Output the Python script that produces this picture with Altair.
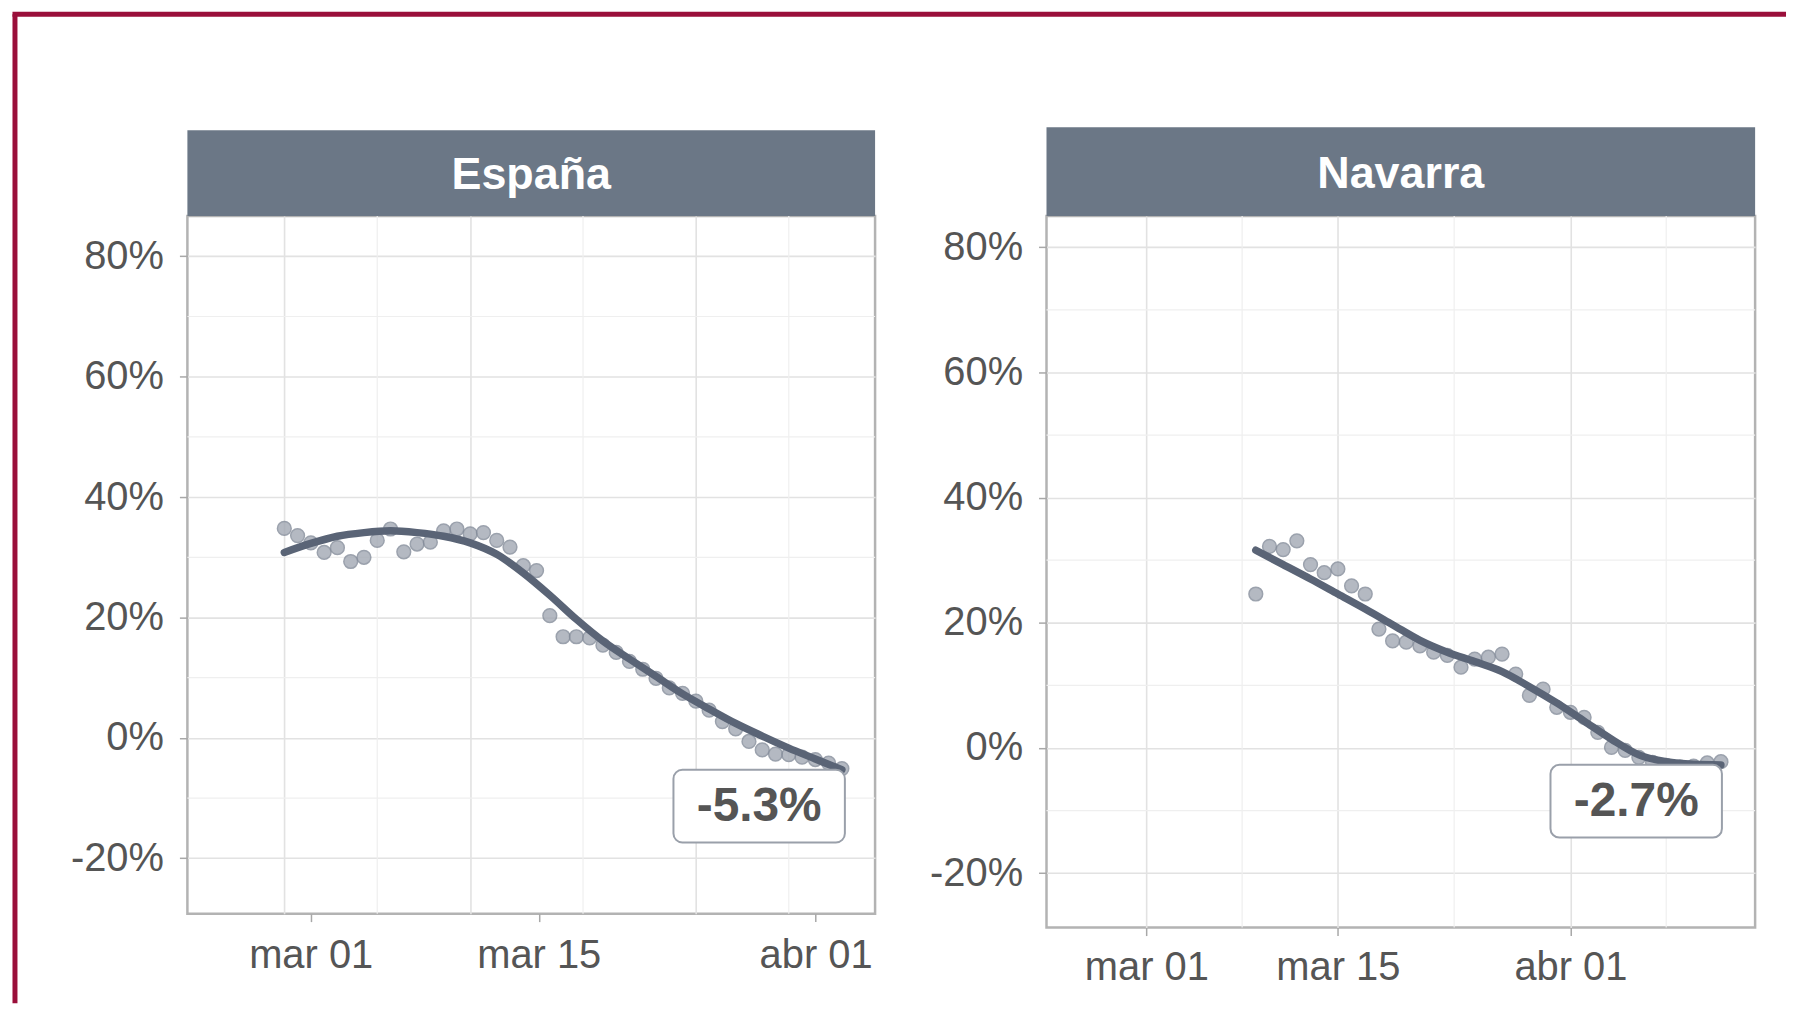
import altair as alt
import pandas as pd

# ---------------- data ----------------
panels = ["España", "Navarra"]
end_labels = ["-5.3%", "-2.7%"]

tick_days = [0, 14, 31]                      # days since 1 March
tick_labels = ["mar 01", "mar 15", "abr 01"]
x_minor = [7, 22.5, 38]
y_ticks = [-20, 0, 20, 40, 60, 80]
y_minor = [-10, 10, 30, 50, 70]

esp_days = list(range(0, 43))
esp_vals = [34.8, 33.6, 32.4, 30.8, 31.6, 29.3, 30.0, 32.8, 34.7, 30.9,
            32.2, 32.5, 34.4, 34.7, 33.9, 34.1, 32.8, 31.7, 28.6, 27.8,
            20.3, 16.8, 16.8, 16.6, 15.4, 14.2, 12.7, 11.4, 9.9, 8.3,
            7.4, 6.1, 4.6, 2.7, 1.5, -0.6, -2.0, -2.7, -2.8, -3.2,
            -3.6, -4.2, -5.1]
esp_smooth_days = list(range(0, 43, 2))
esp_smooth = [30.8, 32.3, 33.5, 34.1, 34.4, 34.1, 33.5, 32.4, 30.5, 27.4,
              23.7, 19.7, 16.1, 13.1, 10.2, 7.3, 4.8, 2.4, 0.3, -1.7,
              -3.5, -5.3]

nav_days = list(range(8, 43))
nav_vals = [24.6, 32.2, 31.7, 33.1, 29.3, 28.0, 28.6, 25.9, 24.6, 19.0,
            17.1, 16.9, 16.3, 15.3, 14.8, 12.9, 14.2, 14.5, 15.0, 11.8,
            8.4, 9.4, 6.5, 5.7, 4.9, 2.5, 0.1, -0.4, -1.5, -2.3,
            -2.8, -3.0, -2.9, -2.4, -2.2]
nav_smooth_days = list(range(8, 43, 2))
nav_smooth = [31.6, 29.3, 27.0, 24.6, 22.2, 19.7, 17.2, 15.3, 13.8, 12.2,
              9.8, 7.2, 4.3, 1.4, -1.1, -2.2, -2.6, -2.7]

# ---------------- style ----------------
FONT = "Liberation Sans"
TXT = "#555555"
STRIP = "#6b7786"
LINE = "#5a6476"
PT_FILL = "#a2a8b3"
PT_STROKE = "#838b99"
FRAME = "#9a0f3a"
GRID_MAJOR = "#e2e2e2"
GRID_MINOR = "#efefef"

label_expr = " : ".join(
    f"datum.value == {d} ? '{t}'" for d, t in zip(tick_days, tick_labels)
) + " : ''"


def panel(idx, width, height, ydom, strip_h, show_x_labels, box_dx):
    name = panels[idx]
    days, vals = (esp_days, esp_vals) if idx == 0 else (nav_days, nav_vals)
    sdays, svals = (esp_smooth_days, esp_smooth) if idx == 0 else (nav_smooth_days, nav_smooth)

    pts = pd.DataFrame({"d": days, "v": vals})
    smooth = pd.DataFrame({"d": sdays, "v": svals})
    last = pd.DataFrame({"d": [sdays[-1]], "v": [svals[-1]], "lab": [end_labels[idx]]})
    strip_df = pd.DataFrame({"panel": [name]})
    xmin = pd.DataFrame({"d": x_minor})
    ymin = pd.DataFrame({"v": y_minor})

    xs = alt.Scale(domain=[-7.3, 44.5], nice=False, zero=False)
    ys = alt.Scale(domain=ydom, nice=False, zero=False)
    xaxis = alt.Axis(values=tick_days, grid=True, labels=show_x_labels,
                     ticks=show_x_labels, domain=False, title=None,
                     labelExpr=label_expr, tickSize=8, labelPadding=12)
    yaxis = alt.Axis(values=y_ticks, grid=True, domain=False, title=None,
                     labelExpr="datum.value + '%'", tickSize=8, labelPadding=16)
    X = lambda: alt.X("d:Q", scale=xs, axis=xaxis)
    Y = lambda: alt.Y("v:Q", scale=ys, axis=yaxis)

    layers = [
        alt.Chart(xmin).mark_rule(color=GRID_MINOR, strokeWidth=1.2).encode(x=X()),
        alt.Chart(ymin).mark_rule(color=GRID_MINOR, strokeWidth=1.2).encode(y=Y()),
        alt.Chart(strip_df).mark_rect(color=STRIP).encode(
            x=alt.value(0), x2=alt.value(width), y=alt.value(-strip_h), y2=alt.value(0)),
        alt.Chart(strip_df).mark_text(color="white", font=FONT, fontSize=45,
                                      fontWeight="bold", baseline="middle", align="center").encode(
            x=alt.value(width / 2), y=alt.value(-strip_h / 2 + 2), text="panel:N"),
        alt.Chart(pts).mark_point(filled=True, size=190, color=PT_FILL, stroke=PT_STROKE,
                                  strokeWidth=1.5, opacity=0.8).encode(x=X(), y=Y()),
        alt.Chart(smooth).mark_line(color=LINE, strokeWidth=7.5, interpolate="monotone",
                                    strokeCap="round").encode(x=X(), y=Y()),
        alt.Chart(last).mark_rect(fill="white", stroke="#9aa0aa", strokeWidth=2,
                                  cornerRadius=9, xOffset=-171 + box_dx, x2Offset=1 + box_dx,
                                  yOffset=0, y2Offset=73).encode(
            x=X(), x2="d:Q", y=Y(), y2="v:Q"),
        alt.Chart(last).mark_text(font=FONT, fontSize=48, fontWeight="bold", color="#555555",
                                  align="center", baseline="middle",
                                  dx=-85 + box_dx, dy=37).encode(x=X(), y=Y(), text="lab:N"),
    ]
    if idx == 0:
        one = pd.DataFrame({"k": [0]})
        layers.insert(0, alt.Chart(one).mark_rule(color=FRAME, strokeWidth=5).encode(
            x=alt.value(-173), y=alt.value(-202.5), y2=alt.value(790)))
        layers.insert(0, alt.Chart(one).mark_rule(color=FRAME, strokeWidth=5).encode(
            x=alt.value(-175.5), x2=alt.value(1604), y=alt.value(-202.5)))
    inner = alt.layer(*layers).properties(width=width, height=height)
    return inner


left_inner = panel(0, 690, 700, [-29.2, 86.7], 86, False, 2)

# tick labels of the left panel sit at their own positions in the picture
lab_df = pd.DataFrame({"d": tick_days})
left_labels = alt.Chart(lab_df).mark_point(opacity=0).encode(
    x=alt.X("d:Q", scale=alt.Scale(domain=[-7.57, 34.65], nice=False, zero=False),
            axis=alt.Axis(values=tick_days, grid=False, labels=True, ticks=True,
                          domain=False, title=None, orient="bottom",
                          labelExpr=label_expr, tickSize=8, labelPadding=14)),
    y=alt.value(0),
)
left = alt.layer(left_inner, left_labels).resolve_scale(x="independent").properties(
    width=690, height=700)

right = panel(1, 711, 714, [-28.7, 85.0], 89, True, 0)

chart = alt.hconcat(left, right, spacing=172, bounds="flush").properties(
    padding=0, background="white"
).configure_view(
    stroke="#b3b3b3", strokeWidth=2.5, fill="white"
).configure_axis(
    labelFont=FONT, labelFontSize=40, labelColor=TXT,
    tickColor="#a8a8a8", tickWidth=1.5,
    gridColor=GRID_MAJOR, gridWidth=1.6,
)

chart.save("out.html", embed_options={"renderer": "svg", "actions": False})
